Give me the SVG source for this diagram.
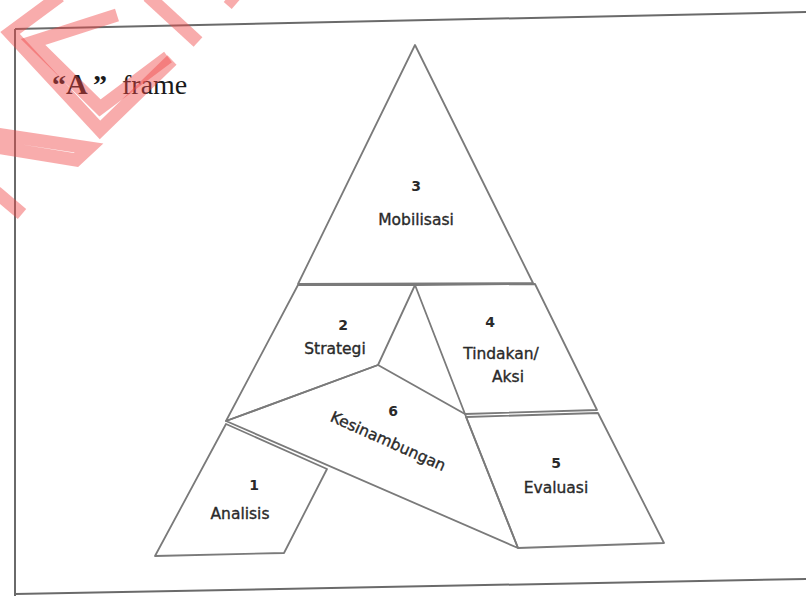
<svg xmlns="http://www.w3.org/2000/svg" width="806" height="596" viewBox="0 0 806 596">
  <style>
    .frame { stroke: #6a6a6a; stroke-width: 2; fill: none; }
    .shape { stroke: #7a7a7a; stroke-width: 1.8; fill: none; stroke-linejoin: round; }
    .lbl { font-family: "DejaVu Sans", Verdana, sans-serif; font-size: 15.5px; fill: #2a2a2a; stroke: #2a2a2a; stroke-width: 0.35; text-anchor: middle; }
    .num { font-family: "DejaVu Sans", Verdana, sans-serif; font-size: 14px; font-weight: bold; fill: #2a2a2a; text-anchor: middle; }
    .title { font-family: "Liberation Serif", "Times New Roman", serif; font-size: 28px; fill: #1a1a1a; }
    .wm { stroke: #f04848; stroke-opacity: 0.45; stroke-width: 13; fill: none; stroke-linecap: butt; stroke-linejoin: miter; }
  </style>
  <rect width="806" height="596" fill="#ffffff"/>

  <g id="page-frame">
    <line class="frame" x1="15" y1="29" x2="806" y2="12"/>
    <line class="frame" x1="15" y1="29" x2="15" y2="596"/>
    <line class="frame" x1="15" y1="594" x2="806" y2="579"/>
  </g>

  <g id="title">
    <text class="title" y="94"><tspan x="52" font-weight="bold">“</tspan><tspan x="66" font-weight="bold" font-size="30">A</tspan><tspan x="93" font-weight="bold">”</tspan><tspan x="122">frame</tspan></text>
  </g>

  <g id="connectors"></g>

  <g id="node-3">
    <polygon class="shape" points="415,45 533,283 298,284"/>
    <text class="num" x="416" y="191">3</text>
    <text class="lbl" x="416" y="225">Mobilisasi</text>
  </g>

  <g id="node-2">
    <polygon class="shape" points="298,285 415,285 378,365 226,421"/>
    <text class="num" x="343" y="330">2</text>
    <text class="lbl" x="335" y="354">Strategi</text>
  </g>

  <g id="node-4">
    <polygon class="shape" points="415,285 535,284 597,410 465,414"/>
    <text class="num" x="490" y="327">4</text>
    <text class="lbl" x="501" y="359">Tindakan/</text>
    <text class="lbl" x="508" y="382">Aksi</text>
  </g>

  <g id="node-6">
    <polygon class="shape" points="226,421 378,365 465,414 518,548"/>
    <text class="num" x="393" y="416">6</text>
    <text class="lbl" transform="translate(386,446) rotate(24)" x="0" y="0">Kesinambungan</text>
  </g>

  <g id="node-5">
    <polygon class="shape" points="466,417 598,413 664,543 518,548"/>
    <text class="num" x="556" y="468">5</text>
    <text class="lbl" x="556" y="493">Evaluasi</text>
  </g>

  <g id="node-1">
    <polygon class="shape" points="226,424 327,469 284,553 155,556"/>
    <text class="num" x="254" y="490">1</text>
    <text class="lbl" x="240" y="519">Analisis</text>
  </g>

  <g id="watermark">
    <polyline class="wm" points="60,-4 10,33 100,130 172,60"/>
    <polyline class="wm" points="117,15 33,42 100,108 168,57"/>
    <line class="wm" x1="148" y1="-4" x2="198" y2="42"/>
    <line class="wm" x1="228" y1="-3" x2="236" y2="4"/>
    <polyline class="wm" points="-4,134 89,148 76,160 -4,147"/>
    <line class="wm" x1="-4" y1="192" x2="22" y2="214"/>
  </g>
</svg>
